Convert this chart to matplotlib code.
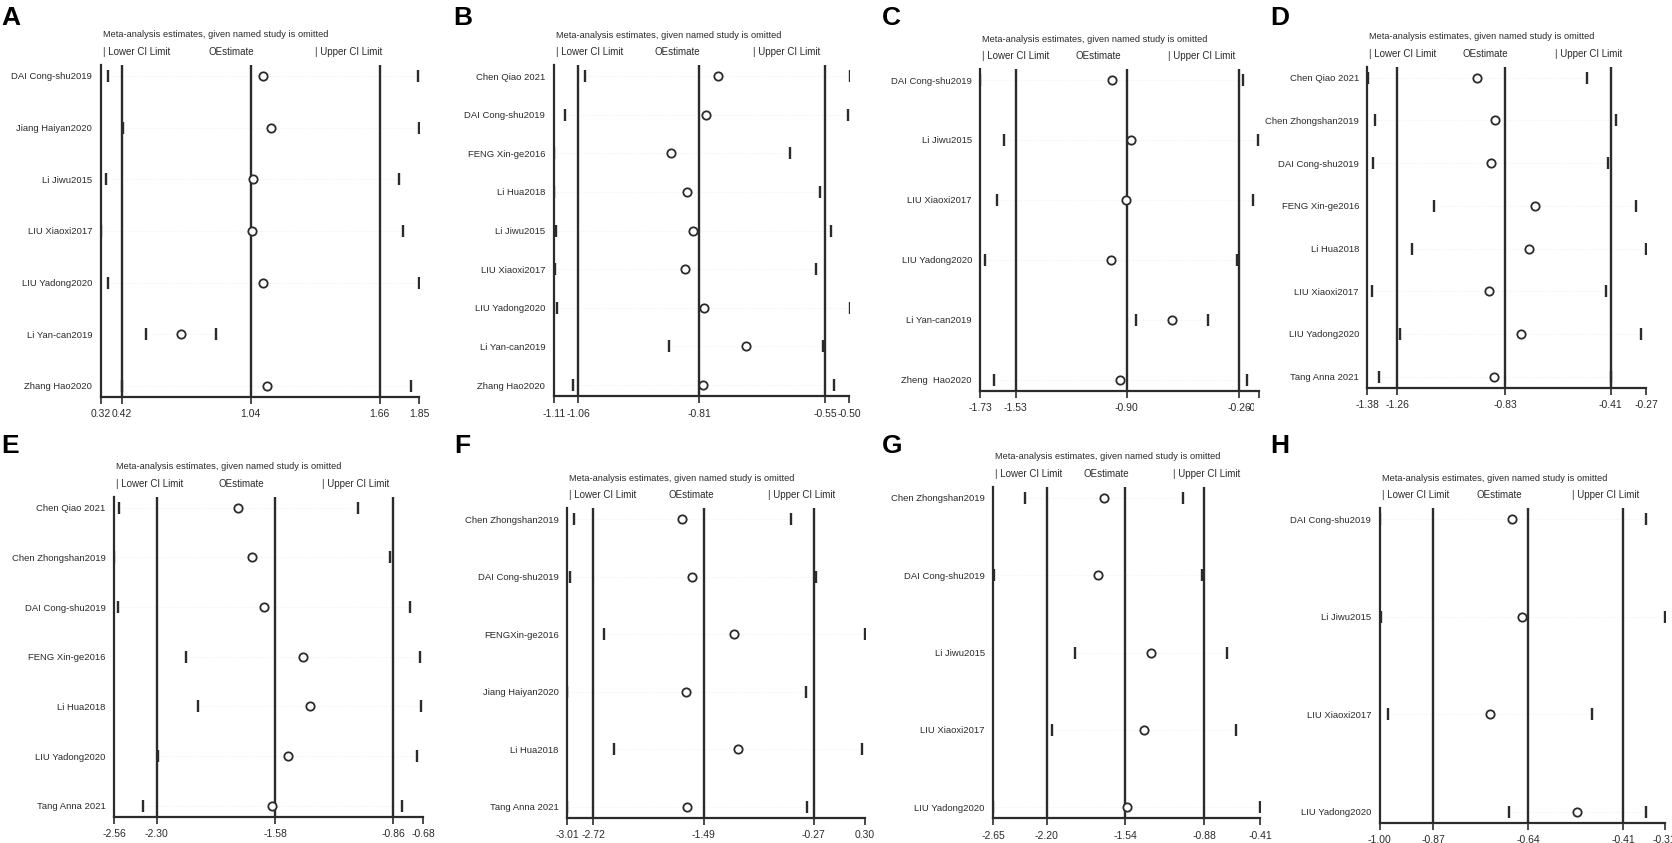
import matplotlib
matplotlib.use("Agg")
import matplotlib.pyplot as plt
from matplotlib.transforms import Bbox

plt.rcParams['font.family'] = ['Liberation Sans Narrow', 'Liberation Sans', 'DejaVu Sans']

W, H = 1672, 843
INK = '#2b2b2b'
HEADER = "Meta-analysis estimates, given named study is omitted"

# ---- data ----
a_studies = ["DAI Cong-shu2019", "Jiang Haiyan2020", "Li Jiwu2015", "LIU Xiaoxi2017",
             "LIU Yadong2020", "Li Yan-can2019", "Zhang Hao2020"]
a_lower = [0.357, 0.425, 0.345, 0.32, 0.357, 0.537, 0.42]
a_est = [1.10, 1.14, 1.05, 1.047, 1.10, 0.705, 1.12]
a_upper = [1.845, 1.85, 1.752, 1.77, 1.85, 0.876, 1.81]
a_ticks = [0.32, 0.42, 1.04, 1.66, 1.85]

b_studies = ["Chen Qiao 2021", "DAI Cong-shu2019", "FENG Xin-ge2016", "Li Hua2018",
             "Li Jiwu2015", "LIU Xiaoxi2017", "LIU Yadong2020", "Li Yan-can2019",
             "Zhang Hao2020"]
b_lower = [-1.045, -1.087, -1.11, -1.11, -1.105, -1.108, -1.103, -0.873, -1.071]
b_est = [-0.77, -0.795, -0.867, -0.835, -0.822, -0.839, -0.80, -0.713, -0.802]
b_upper = [-0.498, -0.503, -0.622, -0.56, -0.538, -0.569, -0.499, -0.555, -0.532]
b_ticks = [-1.11, -1.06, -0.81, -0.55, -0.50]

c_studies = ["DAI Cong-shu2019", "Li Jiwu2015", "LIU Xiaoxi2017", "LIU Yadong2020",
             "Li Yan-can2019", "Zheng  Hao2020"]
c_lower = [-1.73, -1.597, -1.635, -1.702, -0.846, -1.65]
c_est = [-0.983, -0.875, -0.903, -0.988, -0.642, -0.935]
c_upper = [-0.237, -0.153, -0.18, -0.273, -0.436, -0.216]
c_ticks = [-1.73, -1.53, -0.90, -0.26, -0.15]

d_studies = ["Chen Qiao 2021", "Chen Zhongshan2019", "DAI Cong-shu2019", "FENG Xin-ge2016",
             "Li Hua2018", "LIU Xiaoxi2017", "LIU Yadong2020", "Tang Anna 2021"]
d_lower = [-1.378, -1.349, -1.356, -1.113, -1.201, -1.36, -1.25, -1.332]
d_est = [-0.944, -0.873, -0.889, -0.712, -0.736, -0.894, -0.769, -0.875]
d_upper = [-0.506, -0.391, -0.42, -0.311, -0.27, -0.428, -0.289, -0.41]
d_ticks = [-1.38, -1.26, -0.83, -0.41, -0.27]

e_studies = ["Chen Qiao 2021", "Chen Zhongshan2019", "DAI Cong-shu2019", "FENG Xin-ge2016",
             "Li Hua2018", "LIU Yadong2020", "Tang Anna 2021"]
e_lower = [-2.531, -2.56, -2.536, -2.119, -2.05, -2.29, -2.386]
e_est = [-1.803, -1.72, -1.65, -1.41, -1.37, -1.503, -1.596]
e_upper = [-1.074, -0.88, -0.76, -0.698, -0.69, -0.716, -0.807]
e_ticks = [-2.56, -2.30, -1.58, -0.86, -0.68]

f_studies = ["Chen Zhongshan2019", "DAI Cong-shu2019", "FENGXin-ge2016", "Jiang Haiyan2020",
             "Li Hua2018", "Tang Anna 2021"]
f_lower = [-2.932, -2.98, -2.602, -3.01, -2.488, -3.01]
f_est = [-1.729, -1.618, -1.155, -1.685, -1.11, -1.68]
f_upper = [-0.519, -0.244, 0.30, -0.355, 0.263, -0.344]
f_ticks = [-3.01, -2.72, -1.49, -0.27, 0.30]

g_studies = ["Chen Zhongshan2019", "DAI Cong-shu2019", "Li Jiwu2015", "LIU Xiaoxi2017",
             "LIU Yadong2020"]
g_lower = [-2.379, -2.644, -1.962, -2.155, -2.646]
g_est = [-1.716, -1.772, -1.325, -1.386, -1.528]
g_upper = [-1.053, -0.899, -0.69, -0.611, -0.41]
g_ticks = [-2.65, -2.20, -1.54, -0.88, -0.41]

h_studies = ["DAI Cong-shu2019", "Li Jiwu2015", "LIU Xiaoxi2017", "LIU Yadong2020"]
h_lower = [-1.00, -0.998, -0.981, -0.687]
h_est = [-0.679, -0.655, -0.734, -0.523]
h_upper = [-0.356, -0.31, -0.485, -0.356]
h_ticks = [-1.00, -0.87, -0.64, -0.41, -0.31]

panels = [
    ("A", a_studies, a_lower, a_est, a_upper, a_ticks),
    ("B", b_studies, b_lower, b_est, b_upper, b_ticks),
    ("C", c_studies, c_lower, c_est, c_upper, c_ticks),
    ("D", d_studies, d_lower, d_est, d_upper, d_ticks),
    ("E", e_studies, e_lower, e_est, e_upper, e_ticks),
    ("F", f_studies, f_lower, f_est, f_upper, f_ticks),
    ("G", g_studies, g_lower, g_est, g_upper, g_ticks),
    ("H", h_studies, h_lower, h_est, h_upper, h_ticks),
]

# plot area in pixels: left, right, top, bottom ; panel letter x, baseline y
layout = {
    "A": (100.7, 419.3, 65, 397, 1, 25),
    "B": (553.7, 849.3, 65, 396, 453, 25),
    "C": (980.3, 1258.7, 69, 390.7, 882, 25),
    "D": (1367.3, 1646, 66.7, 387.7, 1270, 25),
    "E": (114, 423, 496.7, 816.7, 1, 453),
    "F": (567, 865, 508.3, 817.7, 454, 453),
    "G": (993, 1260, 486.7, 818.3, 882, 453),
    "H": (1379.7, 1664.7, 508.3, 822.7, 1270, 453),
}

fig = plt.figure(figsize=(W / 100, H / 100), dpi=100)

for letter, studies, lower, est, upper, ticks in panels:
    l, r, t, b, lx, ly = layout[letter]
    ax = fig.add_axes([l / W, 1 - b / H, (r - l) / W, (b - t) / H])
    n = len(studies)
    y = list(range(n))
    unit = (b - t - 22) / (n - 1)
    pad = 11 / unit
    ax.set_ylim(n - 1 + pad, -pad)
    ax.set_xlim(ticks[0], ticks[-1])

    # very faint dotted guide per row
    for i in y:
        ax.plot([lower[i], upper[i]], [i, i], ls=':', lw=0.8, color='#f0f0f0', zorder=1)

    for v in ticks[1:4]:
        ax.axvline(v, color=INK, lw=1.7, zorder=2)

    ax.plot(lower, y, ls='none', marker='|', ms=8, mew=1.7, color=INK, zorder=3)
    ax.plot(upper, y, ls='none', marker='|', ms=8, mew=1.7, color=INK, zorder=3)
    ax.plot(est, y, ls='none', marker='o', ms=6, mfc='white', mec=INK, mew=1.3, zorder=4)

    for s in ['top', 'right']:
        ax.spines[s].set_visible(False)
    for s in ['left', 'bottom']:
        ax.spines[s].set_color(INK)
        ax.spines[s].set_linewidth(1.6)

    ax.set_xticks(ticks)
    ax.set_xticklabels([f"{v:.2f}" for v in ticks])
    ax.tick_params(axis='x', length=5, width=1.2, color=INK, labelsize=7.5,
                   labelcolor=INK, pad=4)
    ax.set_yticks(y)
    ax.set_yticklabels(studies)
    ax.tick_params(axis='y', length=0, labelsize=6.8, labelcolor=INK, pad=6)

    if letter == "C":
        # last tick label is cut off by the neighbouring panel in the original
        lab = ax.get_xticklabels()[-1]
        lab.set_clip_box(Bbox([[0, 0], [1254, H]]))
        lab.set_clip_on(True)

    ax.annotate(HEADER, xy=(0, 1), xycoords='axes fraction', xytext=(2, 30),
                textcoords='offset pixels', ha='left', va='center', fontsize=6.7,
                color=INK)
    for fx, txt in [(0, "| Lower CI Limit"), (1 / 3, "OEstimate"), (2 / 3, "| Upper CI Limit")]:
        ax.annotate(txt, xy=(fx, 1), xycoords='axes fraction', xytext=(2, 13),
                    textcoords='offset pixels', ha='left', va='center', fontsize=7,
                    color=INK)

    fig.text(lx / W, 1 - ly / H, letter, fontsize=19, fontweight='bold',
             family=['Liberation Sans', 'DejaVu Sans'], ha='left', va='baseline')

fig.savefig("out.png", dpi=100)
